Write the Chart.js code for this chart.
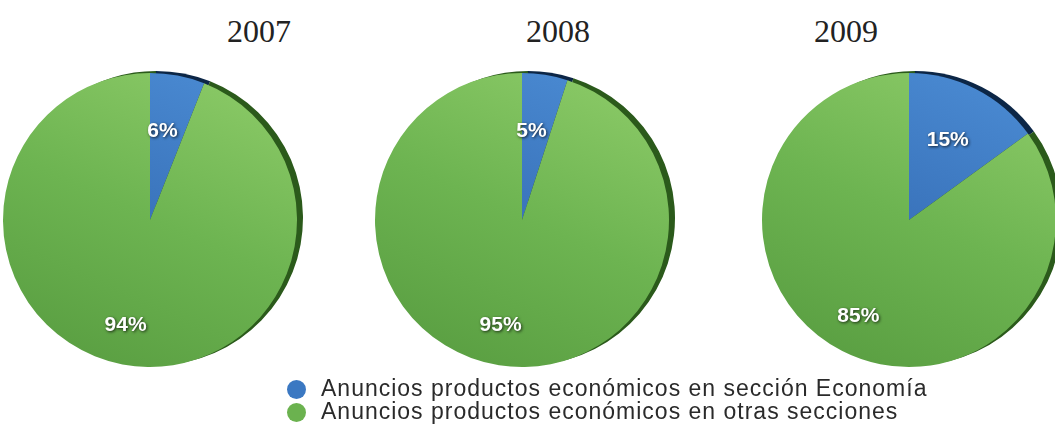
<!DOCTYPE html>
<html>
<head>
<meta charset="utf-8">
<script src="https://cdn.jsdelivr.net/npm/chart.js@4/dist/chart.umd.min.js"></script>
<style>
  html, body { margin: 0; padding: 0; background: #fff; }
  body { width: 1055px; height: 433px; position: relative; overflow: hidden; }
  .pie { position: absolute; width: 320px; height: 320px; }
  .year {
    position: absolute; width: 120px; margin-left: -60px; text-align: center;
    font-family: 'Liberation Serif', 'Times New Roman', serif; font-size: 32px; color: #222;
  }
  .legend { position: absolute; left: 287px; top: 377px; font-family: 'Liberation Sans', Arial, sans-serif; font-size: 23px; letter-spacing: 1px; color: #2a2a2a; }
  .legend div { height: 23px; line-height: 23px; white-space: nowrap; }
  .legend span { display: inline-block; width: 19px; height: 19px; border-radius: 50%; vertical-align: -3px; margin-right: 15px; }
</style>
</head>
<body>
<script>
// Share of economic-product ads by section, per year
const years = ['2007', '2008', '2009'];
const seccionEconomia = [6, 5, 15];
const otrasSecciones = [94, 95, 85];
const categories = [
  'Anuncios productos económicos en sección Economía',
  'Anuncios productos económicos en otras secciones'
];

const blue = '#3b78c2';
const green = '#6bb24f';
const shadowColors = ['#0c2646', '#2b5a1b'];

// pie centres and title x positions on the page
const pieCenters = [150, 522, 909];
const titleX = [259, 558, 846];
const centerY = 220;

// thick rim drawn behind each slice, shifted to the upper right
const rimPlugin = {
  id: 'rim',
  beforeDatasetsDraw(chart) {
    const ctx = chart.ctx;
    const arcs = chart.getDatasetMeta(0).data;
    ctx.save();
    arcs.forEach((arc, i) => {
      const dx = 6, dy = -2;
      ctx.beginPath();
      ctx.moveTo(arc.x + dx, arc.y + dy);
      ctx.arc(arc.x + dx, arc.y + dy, arc.outerRadius, arc.startAngle, arc.endAngle);
      ctx.closePath();
      ctx.fillStyle = shadowColors[i];
      ctx.fill();
    });
    ctx.restore();
  }
};

// percentage labels inside the slices; the tilted disc puts the
// visual apex a little left of and below the geometric centre
const labelPlugin = {
  id: 'pctLabels',
  afterDatasetsDraw(chart) {
    const ctx = chart.ctx;
    const values = chart.data.datasets[0].data;
    ctx.save();
    ctx.font = 'bold 21px "Liberation Sans", Arial, sans-serif';
    ctx.textAlign = 'center';
    ctx.textBaseline = 'middle';
    ctx.fillStyle = '#fff';
    ctx.shadowColor = 'rgba(0,0,0,0.75)';
    ctx.shadowBlur = 3;
    ctx.shadowOffsetX = 1;
    ctx.shadowOffsetY = 1;
    chart.getDatasetMeta(0).data.forEach((arc, i) => {
      const mid = (arc.startAngle + arc.endAngle) / 2;
      const d = arc.outerRadius * 0.67;
      ctx.fillText(values[i] + '%', arc.x - 6 + Math.cos(mid) * d, arc.y + 8 + Math.sin(mid) * d);
    });
    ctx.restore();
  }
};

function sliceFill(context) {
  const chart = context.chart;
  const area = chart.chartArea;
  const base = context.dataIndex === 0 ? blue : green;
  if (!area) return base;
  const cx = (area.left + area.right) / 2, cy = (area.top + area.bottom) / 2;
  const r = Math.min(area.width, area.height) / 2;
  const g = chart.ctx.createLinearGradient(cx + r * 0.5, cy - r, cx - r * 0.4, cy + r);
  if (context.dataIndex === 0) {
    g.addColorStop(0, '#4a8ad2');
    g.addColorStop(1, '#2a5ea6');
  } else {
    g.addColorStop(0, '#8ac966');
    g.addColorStop(0.5, '#6db451');
    g.addColorStop(1, '#5a9f42');
  }
  return g;
}

years.forEach((year, k) => {
  const title = document.createElement('div');
  title.className = 'year';
  title.textContent = year;
  title.style.left = titleX[k] + 'px';
  title.style.top = '13px';
  document.body.appendChild(title);

  const canvas = document.createElement('canvas');
  canvas.className = 'pie';
  canvas.width = 320;
  canvas.height = 320;
  canvas.style.left = (pieCenters[k] - 160) + 'px';
  canvas.style.top = (centerY - 160) + 'px';
  document.body.appendChild(canvas);

  new Chart(canvas, {
    type: 'pie',
    data: {
      labels: categories,
      datasets: [{
        data: [seccionEconomia[k], otrasSecciones[k]],
        backgroundColor: sliceFill,
        borderWidth: 0
      }]
    },
    options: {
      responsive: false,
      animation: false,
      layout: { padding: 13 },
      plugins: { legend: { display: false }, tooltip: { enabled: false } }
    },
    plugins: [rimPlugin, labelPlugin]
  });
});

// legend below the pies
const legend = document.createElement('div');
legend.className = 'legend';
categories.forEach((name, i) => {
  const row = document.createElement('div');
  const dot = document.createElement('span');
  dot.style.background = i === 0 ? blue : green;
  row.appendChild(dot);
  row.appendChild(document.createTextNode(name));
  legend.appendChild(row);
});
document.body.appendChild(legend);
</script>
</body>
</html>
